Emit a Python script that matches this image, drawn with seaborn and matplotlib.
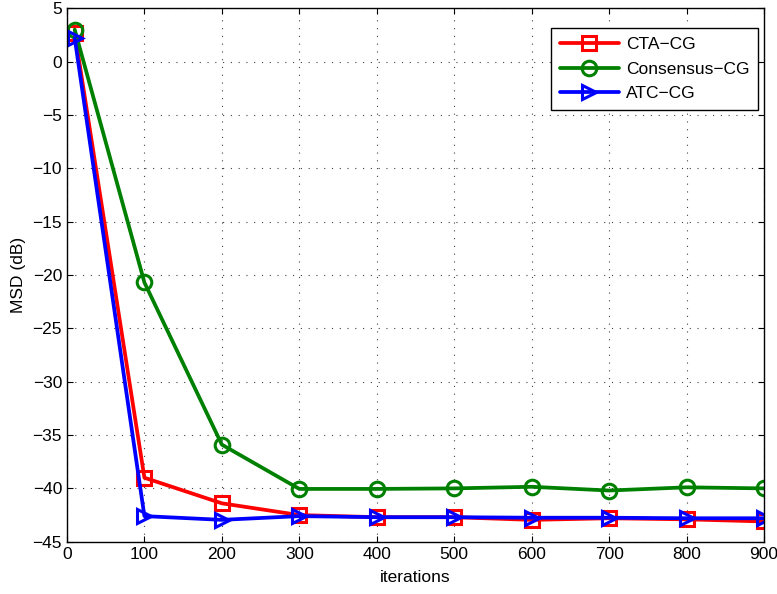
import matplotlib
matplotlib.use("Agg")
import matplotlib.pyplot as plt
import seaborn as sns
import pandas as pd

iterations = [10, 100, 200, 300, 400, 500, 600, 700, 800, 900]
cta_cg = [2.7, -39.0, -41.4, -42.5, -42.7, -42.7, -42.95, -42.8, -42.9, -43.1]
consensus_cg = [3.0, -20.7, -35.9, -40.05, -40.05, -40.0, -39.85, -40.2, -39.9, -40.0]
atc_cg = [2.2, -42.6, -42.95, -42.6, -42.7, -42.7, -42.75, -42.75, -42.8, -42.8]
series_names = ["CTA\u2212CG", "Consensus\u2212CG", "ATC\u2212CG"]
x_ticks = [0, 100, 200, 300, 400, 500, 600, 700, 800, 900]
y_ticks = [-45, -40, -35, -30, -25, -20, -15, -10, -5, 0, 5]

sns.set_style("ticks")
plt.rcParams['font.family'] = ['Liberation Sans', 'DejaVu Sans']
plt.rcParams['xtick.direction'] = 'in'
plt.rcParams['ytick.direction'] = 'in'
plt.rcParams['text.color'] = 'black'
plt.rcParams['axes.labelcolor'] = 'black'

fig = plt.figure(figsize=(7.77, 5.94), dpi=100)
ax = fig.add_axes([0.0862, 0.088, 0.897, 0.898])

styles = [("red", "s"), ("green", "o"), ("blue", ">")]
for name, vals, (col, mk) in zip(series_names, [cta_cg, consensus_cg, atc_cg], styles):
    df = pd.DataFrame({"x": iterations, "y": vals})
    sns.lineplot(data=df, x="x", y="y", ax=ax, color=col, marker=mk, markersize=10.5,
                 markerfacecolor="none", markeredgecolor=col, markeredgewidth=2.2,
                 linewidth=2.7, label=name)

ax.set_xlim(0, 900)
ax.set_ylim(-45, 5)
ax.set_xticks(x_ticks)
ax.set_yticks(y_ticks)
ax.tick_params(labelsize=12.5, top=True, right=True, length=4, width=0.8, colors="black")
ax.grid(True, linestyle=(0, (1, 6)), color="black", linewidth=0.8, alpha=0.75)
for s in ax.spines.values():
    s.set_visible(True)
    s.set_color("black")
    s.set_linewidth(1.0)
ax.set_xlabel("iterations", fontsize=12.5, labelpad=6, color="black")
ax.set_ylabel("MSD (dB)", fontsize=12.5, labelpad=5, color="black")

leg = ax.legend(loc="upper right", bbox_to_anchor=(0.9914, 0.963), borderaxespad=0,
                fontsize=12.5, frameon=True, fancybox=False,
                edgecolor="black", framealpha=1, handlelength=3.4,
                labelspacing=0.55, borderpad=0.5, handletextpad=0.4)
leg.get_frame().set_linewidth(1.0)

fig.savefig("out.png", dpi=100)
